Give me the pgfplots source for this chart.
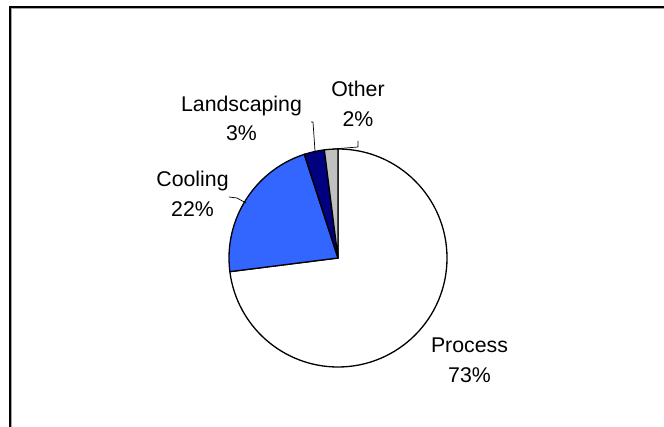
\documentclass[border=0pt]{standalone}
\usepackage{fontspec}
\setmainfont{Liberation Sans}
\usepackage{pgfplots}
\pgfplotsset{compat=1.18}
\definecolor{coolblue}{RGB}{51,102,255}
\definecolor{landnavy}{RGB}{0,0,128}
\definecolor{othgray}{RGB}{192,192,192}
% shares (percent)
\def\vProcess{73}
\def\vCooling{22}
\def\vLand{3}
\def\vOther{2}
\pgfmathsetmacro\sA{90}
\pgfmathsetmacro\dA{-3.6*\vProcess}
\pgfmathsetmacro\sB{\sA+\dA}
\pgfmathsetmacro\dB{-3.6*\vCooling}
\pgfmathsetmacro\sC{\sB+\dB}
\pgfmathsetmacro\dC{-3.6*\vLand}
\pgfmathsetmacro\sD{\sC+\dC}
\pgfmathsetmacro\dD{-3.6*\vOther}
\begin{document}
\begin{tikzpicture}
\begin{axis}[scale only axis, width=664bp, height=427bp,
  xmin=0, xmax=664, ymin=0, ymax=427, hide axis, clip=false,
  every axis plot/.append style={no markers}]
\addplot[draw=black, line width=1.3bp, fill=white] coordinates {(338,169)}
  -- ++(\sA:109bp) arc[start angle=\sA, delta angle=\dA, radius=109bp] -- cycle;
\addplot[draw=black, line width=1.3bp, fill=coolblue] coordinates {(338,169)}
  -- ++(\sB:109bp) arc[start angle=\sB, delta angle=\dB, radius=109bp] -- cycle;
\addplot[draw=black, line width=1.3bp, fill=landnavy] coordinates {(338,169)}
  -- ++(\sC:109bp) arc[start angle=\sC, delta angle=\dC, radius=109bp] -- cycle;
\addplot[draw=black, line width=1.3bp, fill=othgray] coordinates {(338,169)}
  -- ++(\sD:109bp) arc[start angle=\sD, delta angle=\dD, radius=109bp] -- cycle;
% leader lines
\draw[black, line width=0.7bp] (axis cs:229,230) -- (axis cs:237,229) -- (axis cs:246,224);
\draw[black, line width=0.7bp] (axis cs:311,305) -- (axis cs:313,305) -- (axis cs:315,276);
\draw[black, line width=0.7bp] (axis cs:358,286) -- (axis cs:358,280) -- (axis cs:333,278);
% labels
\tikzset{lab/.style={anchor=base, inner sep=0pt, font=\fontsize{21.3bp}{25bp}\selectfont}}
\node[lab] at (axis cs:469.5,74) {Process};
\node[lab] at (axis cs:469.5,44) {73\%};
\node[lab] at (axis cs:192.5,240) {Cooling};
\node[lab] at (axis cs:192.5,210) {22\%};
\node[lab] at (axis cs:241.5,315) {Landscaping};
\node[lab] at (axis cs:241.5,286) {3\%};
\node[lab] at (axis cs:358,330) {Other};
\node[lab] at (axis cs:358,300) {2\%};
% chart frame
\draw[gray!70, line width=1bp] (axis cs:11.5,0) -- (axis cs:11.5,418.5) -- (axis cs:664,418.5);
\draw[black, line width=2bp] (axis cs:10,0) -- (axis cs:10,420) -- (axis cs:664,420);
\end{axis}
\pgfresetboundingbox
\path[use as bounding box] (current axis.south west) rectangle (current axis.north east);
\end{tikzpicture}
\end{document}
